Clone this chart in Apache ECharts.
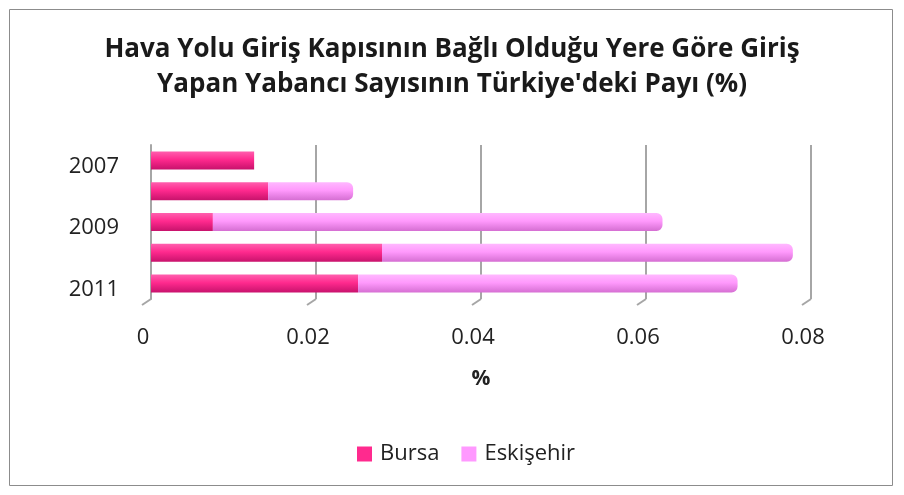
<!DOCTYPE html>
<html>
<head>
<meta charset="utf-8">
<script src="https://cdn.jsdelivr.net/npm/echarts@6/dist/echarts.min.js"></script>
<style>
  html, body { margin: 0; padding: 0; background: #fff; }
  #chart { width: 904px; height: 495px; }
</style>
</head>
<body>
<div id="chart"></div>
<script>
// veriler
const years = ['2007', '2008', '2009', '2010', '2011']
const bursa = [0.0125, 0.0142, 0.0075, 0.028, 0.0251]
const eskisehir = [0, 0.0103, 0.0545, 0.0498, 0.046]
const ticks = [0, 0.02, 0.04, 0.06, 0.08]
const seriesNames = ['Bursa', 'Eskişehir']

const font = '"Open Sans", "Noto Sans", sans-serif'

const grad = (top, mid, bottom) => new echarts.graphic.LinearGradient(0, 0, 0, 1, [
  { offset: 0, color: top },
  { offset: 0.45, color: mid },
  { offset: 1, color: bottom }
])

const chart = echarts.init(document.getElementById('chart'), null, { renderer: 'canvas' })

chart.setOption({
  animation: false,
  title: {
    text: 'Hava Yolu Giriş Kapısının Bağlı Olduğu Yere Göre Giriş\nYapan Yabancı Sayısının Türkiye\'deki Payı (%)',
    left: 'center',
    top: 27,
    textStyle: {
      fontFamily: font,
      fontSize: 26,
      fontWeight: 'bold',
      color: '#1a1a1a',
      lineHeight: 35
    }
  },
  legend: {
    data: [
      { name: seriesNames[0], itemStyle: { color: '#ff2a8e' } },
      { name: seriesNames[1], itemStyle: { color: '#ff99ff' } }
    ],
    top: 438,
    left: 352,
    itemWidth: 15,
    itemHeight: 15,
    itemGap: 22,
    icon: 'rect',
    textStyle: { fontFamily: font, fontSize: 22, color: '#222', padding: [0, 0, 0, 3] }
  },
  grid: {
    left: 151,
    right: 93,
    top: 145,
    bottom: 196
  },
  xAxis: {
    type: 'value',
    min: 0,
    max: 0.08,
    interval: 0.02,
    name: '%',
    nameLocation: 'middle',
    nameGap: 70,
    nameTextStyle: { fontFamily: font, fontSize: 21, fontWeight: 'bold', color: '#222' },
    axisLine: { show: false },
    axisTick: { show: false },
    axisLabel: {
      fontFamily: font,
      fontSize: 22,
      color: '#222',
      margin: 28,
      padding: [0, 16, 0, 0],
      formatter: v => v === 0 ? '0' : v.toFixed(2)
    },
    splitLine: { lineStyle: { color: '#a6a6a6', width: 2 } }
  },
  yAxis: {
    type: 'category',
    data: years,
    inverse: true,
    axisLine: { show: true, lineStyle: { color: '#a6a6a6', width: 2 } },
    axisTick: { show: false },
    axisLabel: {
      interval: 1,
      fontFamily: font,
      fontSize: 22,
      color: '#222',
      margin: 32,
      verticalAlign: 'top',
      lineHeight: 12
    }
  },
  series: [
    {
      name: seriesNames[0],
      type: 'bar',
      stack: 'pay',
      barWidth: 18,
      data: bursa,
      itemStyle: {
        color: grad('#ff5fae', '#ff2a8e', '#c8126c')
      }
    },
    {
      name: seriesNames[1],
      type: 'bar',
      stack: 'pay',
      barWidth: 18,
      data: eskisehir,
      itemStyle: {
        color: grad('#ffb8ff', '#ff99fc', '#d56ed2'),
        borderRadius: [0, 6, 6, 0]
      }
    }
  ]
})

// 3B zemin çizgileri (eksen ölçeğinden hesaplanıyor)
const floorY = 495 - 196
const decor = [
  {
    type: 'rect',
    shape: { x: 9.5, y: 9.5, width: 883, height: 476 },
    style: { fill: 'none', stroke: '#8c8c8c', lineWidth: 1 },
    silent: true
  }
]
ticks.forEach(v => {
  const x = chart.convertToPixel({ xAxisIndex: 0 }, v)
  decor.push({
    type: 'line',
    shape: { x1: x, y1: floorY, x2: x - 9, y2: floorY + 6 },
    style: { stroke: '#a6a6a6', lineWidth: 2 },
    silent: true
  })
})
chart.setOption({ graphic: decor })
</script>
</body>
</html>
